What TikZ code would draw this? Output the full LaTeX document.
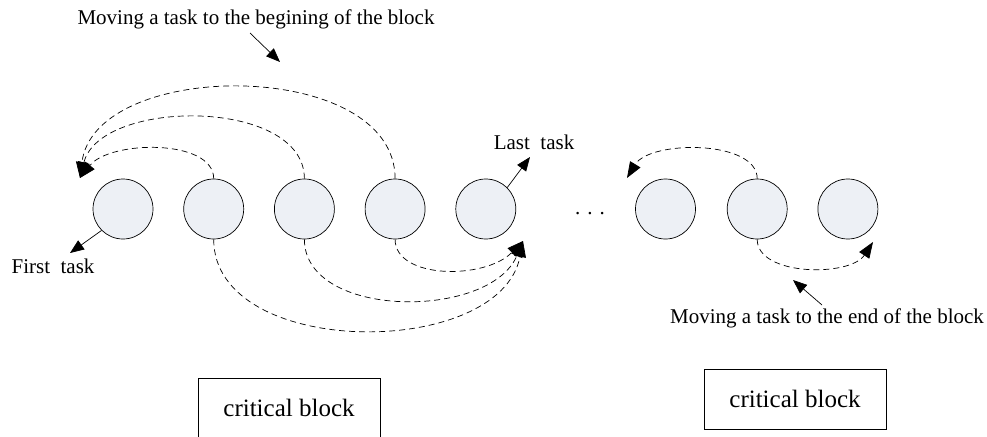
\documentclass[tikz,border=0pt]{standalone}
\usepackage{fontspec}
\setmainfont{Liberation Serif}
\usetikzlibrary{positioning,arrows.meta}
\definecolor{taskfill}{HTML}{EDF0F5}

\begin{document}
\begin{tikzpicture}[x=1pt,y=-1pt,font=\fontsize{21}{24}\selectfont,
task/.style={circle,draw,line width=0.7pt,fill=taskfill,minimum size=60pt,inner sep=0pt},
move/.style={line width=0.7pt,dash pattern=on 6pt off 4pt,-{Triangle[length=16pt,width=12pt]}},
pointer/.style={line width=0.7pt,-{Triangle[length=14pt,width=11pt]}},
blockbox/.style={draw,line width=0.8pt,minimum width=182pt,minimum height=60pt,
  font=\fontsize{25}{28}\selectfont}]
\useasboundingbox (0,0) rectangle (987,436);

%tasks of the first block
\node[task] (c1) at (123,209) {};
\node[task, right=30pt of c1] (c2) {};
\node[task, right=30pt of c2] (c3) {};
\node[task, right=30pt of c3] (c4) {};
\node[task, right=30pt of c4] (c5) {};

\node (dots) at (590,214) {. . .};

%tasks of the second block
\node[task, right=119pt of c5] (c6) {};
\node[task, right=31pt of c6] (c7) {};
\node[task, right=30pt of c7] (c8) {};

% arrow tips
\coordinate (tipL) at (80,178);
\coordinate (tipR) at (523,241);
\coordinate (tipL2) at (627,178);
\coordinate (tipR2) at (873,242);

% moves to the begining
\draw[move] (c2.north) .. controls +(0,-40) and +(30,-38) .. (tipL);
\draw[move] (c3.north) .. controls +(0,-81) and +(20,-80) .. (tipL);
\draw[move] (c4.north) .. controls +(0,-121) and +(15,-120) .. (tipL);
\draw[move] (c7.north) .. controls +(0,-39) and +(23,-38) .. (tipL2);

% moves to the end
\draw[move] (c2.south) .. controls +(0,120) and +(-23,119) .. (tipR);
\draw[move] (c3.south) .. controls +(0,80) and +(-33,79) .. (tipR);
\draw[move] (c4.south) .. controls +(0,40) and +(-38,39) .. (tipR);
\draw[move] (c7.south) .. controls +(0,37) and +(-23,35) .. (tipR2);

% labels
\node (first) at (53,266) {First\ \ task};
\coordinate (firstTip) at (70,253);
\draw[pointer] (c1.south west) -- (firstTip);

\node (last) at (534,142) {Last\ \ task};
\coordinate (lastTip) at (530,157);
\draw[pointer] (c5.north east) -- (lastTip);

\node (begin) at (256,19) {Moving a task to the begining of the block};
\coordinate (beginFrom) at (250,33);
\coordinate (beginTip) at (280,62);
\draw[pointer] (beginFrom) -- (beginTip);

\node (end) at (827,318) {Moving a task to the end of the block};
\coordinate (endFrom) at (822,305);
\coordinate (endTip) at (793,280);
\draw[pointer] (endFrom) -- (endTip);

% blocks
\node[blockbox] (block1) at (289,408) {critical block};
\node[blockbox] (block2) at (795,399) {critical block};
\end{tikzpicture}
\end{document}
